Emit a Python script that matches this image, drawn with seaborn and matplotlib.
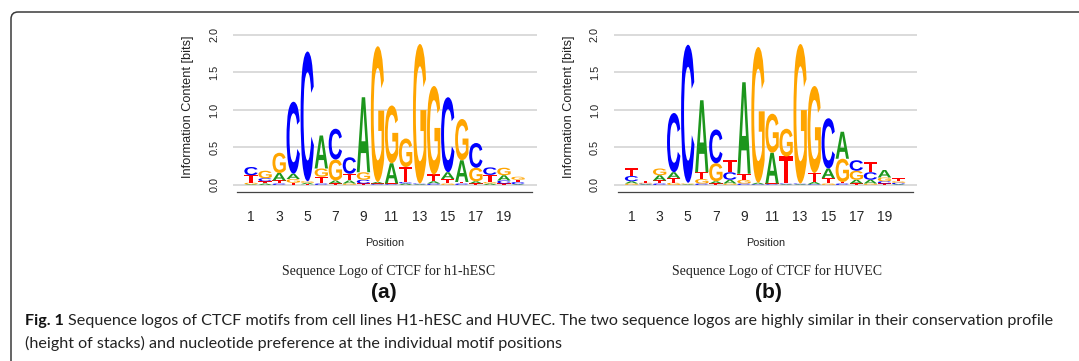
import numpy as np
import pandas as pd
import seaborn as sns
import matplotlib
matplotlib.use("Agg")
import matplotlib.pyplot as plt
from matplotlib.textpath import TextPath
from matplotlib.patches import PathPatch
from matplotlib.font_manager import FontProperties
from matplotlib.transforms import Affine2D
from matplotlib.path import Path

# ---------------- data ----------------
positions = list(range(1, 21))
bases = ["A", "C", "G", "T"]

# h1-hESC (information content contributed by each base, bits)
h1_A = [0.01, 0.02, 0.10, 0.07, 0.02, 0.44, 0.04, 0.04, 1.00, 0.02,
        0.27, 0.02, 0.01, 0.03, 0.09, 0.29, 0.03, 0.02, 0.07, 0.01]
h1_C = [0.11, 0.04, 0.02, 0.96, 1.73, 0.02, 0.41, 0.22, 0.05, 0.01,
        0.01, 0.02, 0.01, 0.02, 1.00, 0.02, 0.33, 0.10, 0.04, 0.03]
h1_G = [0.02, 0.10, 0.27, 0.05, 0.02, 0.11, 0.28, 0.02, 0.10, 1.81,
        0.77, 0.38, 1.86, 1.18, 0.02, 0.55, 0.18, 0.02, 0.10, 0.04]
h1_T = [0.10, 0.03, 0.04, 0.03, 0.01, 0.09, 0.02, 0.09, 0.02, 0.01,
        0.01, 0.20, 0.00, 0.09, 0.06, 0.02, 0.02, 0.095, 0.02, 0.03]

# HUVEC
hu_A = [0.03, 0.01, 0.07, 0.08, 0.01, 0.96, 0.03, 0.05, 1.22, 0.02,
        0.41, 0.01, 0.01, 0.03, 0.13, 0.36, 0.05, 0.05, 0.10, 0.01]
hu_C = [0.07, 0.01, 0.02, 0.79, 1.84, 0.02, 0.45, 0.10, 0.02, 0.01,
        0.01, 0.01, 0.01, 0.01, 0.67, 0.02, 0.14, 0.10, 0.03, 0.02]
hu_G = [0.02, 0.01, 0.09, 0.03, 0.01, 0.06, 0.24, 0.02, 0.05, 1.81,
        0.52, 0.37, 1.86, 1.16, 0.02, 0.31, 0.12, 0.02, 0.05, 0.02]
hu_T = [0.10, 0.02, 0.04, 0.06, 0.01, 0.09, 0.02, 0.16, 0.08, 0.00,
        0.01, 0.36, 0.00, 0.12, 0.07, 0.02, 0.02, 0.13, 0.02, 0.04]

panel_titles = ["Sequence Logo of CTCF for h1-hESC", "Sequence Logo of CTCF for HUVEC"]
panel_tags = ["(a)", "(b)"]
y_ticks = [0.0, 0.5, 1.0, 1.5, 2.0]
y_tick_labels = ["0.0", "0.5", "1.0", "1.5", "2.0"]
x_tick_labels = ["1", "3", "5", "7", "9", "11", "13", "15", "17", "19"]
caption_bold = "Fig. 1"
caption_line1 = ("Sequence logos of CTCF motifs from cell lines H1-hESC and HUVEC. The two sequence logos "
                 "are highly similar in their conservation profile")
caption_line2 = "(height of stacks) and nucleotide preference at the individual motif positions"

colors = {"A": "#1c961c", "C": "#0000ff", "G": "#ffa500", "T": "#ff0000"}


def to_long(A, C, G, T, name):
    df = pd.DataFrame({"position": positions, "A": A, "C": C, "G": G, "T": T})
    df = df.melt(id_vars="position", var_name="base", value_name="bits")
    df["panel"] = name
    return df


data = pd.concat([to_long(h1_A, h1_C, h1_G, h1_T, "h1"),
                  to_long(hu_A, hu_C, hu_G, hu_T, "hu")], ignore_index=True)

# ---------------- figure ----------------
sns.set_style("white")
plt.rcParams["font.family"] = ["Liberation Sans", "DejaVu Sans"]

W, H = 1079, 361
fig = plt.figure(figsize=(W / 100, H / 100), dpi=100)

fp_letter = FontProperties(family="Liberation Sans", weight="bold")
glyphs = {}
for b in bases:
    tp = TextPath((0, 0), b, size=1, prop=fp_letter)
    glyphs[b] = (tp, tp.get_extents())


def draw_letter(ax, b, x, y0, h, w):
    if h <= 0:
        return
    tp, ext = glyphs[b]
    tr = (Affine2D().translate(-ext.x0, -ext.y0)
          .scale(w / ext.width, h / ext.height)
          .translate(x - w / 2, y0))
    ax.add_patch(PathPatch(tr.transform_path(tp), fc=colors[b], ec="none", lw=0, zorder=3))


# layout in pixels
px_unit = 14.05
xmin, xmax = -0.28, 21.35
ymin, ymax = -0.05, 2.05
py_unit = 75.0
ax_w = (xmax - xmin) * px_unit
ax_h = (ymax - ymin) * py_unit
ax_top_px = 35 - (ymax - 2.0) * py_unit
ax_left_px = [237 - (0 - xmin) * px_unit, 237 + 380.5 - (0 - xmin) * px_unit]
title_x = [389, 777]
tag_x = [384, 768]

for i, name in enumerate(["h1", "hu"]):
    left = ax_left_px[i]
    ax = fig.add_axes([left / W, (H - ax_top_px - ax_h) / H, ax_w / W, ax_h / H])
    ax.set_xlim(xmin, xmax)
    ax.set_ylim(ymin, ymax)
    sub = data[data.panel == name]
    for pos, grp in sub.groupby("position"):
        grp = grp.sort_values("bits")
        y0 = 0.0
        for _, row in grp.iterrows():
            draw_letter(ax, row["base"], pos, y0, row["bits"], 0.95)
            y0 += row["bits"]

    ax.set_yticks(y_ticks)
    ax.set_yticklabels(y_tick_labels, rotation=90, va="center", fontsize=7.8, color="#222222")
    ax.tick_params(axis="y", length=0, pad=10)
    ax.yaxis.grid(True, color="#d4d4d4", lw=1.2)
    ax.xaxis.grid(False)
    ax.set_axisbelow(True)

    ticks = list(range(0, 22))
    ax.set_xticks(ticks)
    ax.set_xticklabels([str(t) if str(t) in x_tick_labels else "" for t in ticks],
                       fontsize=7.8, color="#222222")
    ax.tick_params(axis="x", direction="out", length=5, width=0.9, color="#444444", pad=8)
    for s in ["top", "right", "left"]:
        ax.spines[s].set_visible(False)
    ax.spines["bottom"].set_position(("outward", 2.4))
    ax.spines["bottom"].set_bounds(0, 21)
    ax.spines["bottom"].set_color("#444444")
    ax.spines["bottom"].set_linewidth(0.9)
    ax.patch.set_alpha(0)

    fig.text((left + ax_w / 2) / W, (H - 243) / H, "Position", ha="center", va="center",
             fontsize=7.8, color="#222222")

    fig.text((left - 45) / W, (H - 107) / H, "Information Content [bits]", rotation=90,
             ha="center", va="center", fontsize=9.2, color="#222222")

    fig.text(title_x[i] / W, (H - 271) / H, panel_titles[i], ha="center", va="center",
             fontsize=10, family=["Liberation Serif", "DejaVu Serif"], color="#222222")
    fig.text(tag_x[i] / W, (H - 292) / H, panel_tags[i], ha="center", va="center",
             fontsize=15, fontweight="bold", color="#111111")

# caption
fig.canvas.draw()
r = fig.canvas.get_renderer()
cap_family = ["Lato", "DejaVu Sans"]


def wpx(s, size, weight):
    t = fig.text(0, 0, s, fontsize=size, fontweight=weight, family=cap_family)
    w = t.get_window_extent(r).width
    t.remove()
    return w


base = 10.0
w_b = wpx(caption_bold, base, "bold")
w_r = wpx(caption_line1, base, "normal")
w_sp = wpx("a a", base, "normal") - wpx("aa", base, "normal")
scale = (1053 - 25) / (w_b + w_sp + w_r)
cs = base * scale
fig.text(25 / W, (H - 321) / H, caption_bold, fontsize=cs, fontweight="bold",
         family=cap_family, va="center", ha="left", color="#111111")
fig.text((25 + (w_b + w_sp) * scale) / W, (H - 321) / H, caption_line1, fontsize=cs,
         family=cap_family, va="center", ha="left", color="#222222")
fig.text(25 / W, (H - 343) / H, caption_line2, fontsize=cs,
         family=cap_family, va="center", ha="left", color="#222222")

# frame (top-left rounded corner, running off the right and bottom edges)
rr = 0.07
x0, ytop = 11 / 100, (H - 12) / 100
verts = [(x0, -0.2), (x0, ytop - rr), (x0, ytop), (x0 + rr, ytop), (W / 100 + 0.2, ytop)]
codes = [Path.MOVETO, Path.LINETO, Path.CURVE3, Path.CURVE3, Path.LINETO]
fig.add_artist(PathPatch(Path(verts, codes), fc="none", ec="#3a3a3a", lw=1.1,
                         transform=fig.dpi_scale_trans))

fig.savefig("out.png", dpi=100)
